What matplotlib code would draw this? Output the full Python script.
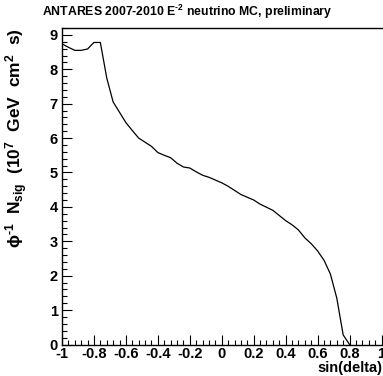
import matplotlib
matplotlib.use('Agg')
from matplotlib import pyplot as plt
from matplotlib.ticker import MultipleLocator

plt.rcParams['font.family'] = ['Liberation Sans', 'DejaVu Sans']
plt.rcParams['font.weight'] = 'bold'
plt.rcParams['axes.unicode_minus'] = False
plt.rcParams['mathtext.fontset'] = 'custom'
plt.rcParams['mathtext.rm'] = 'Liberation Sans:bold'
plt.rcParams['mathtext.it'] = 'Liberation Sans:bold'
plt.rcParams['mathtext.bf'] = 'Liberation Sans:bold'
plt.rcParams['mathtext.default'] = 'rm'

# acceptance curve
sin_delta = [-1.0, -0.96, -0.92, -0.88, -0.84, -0.80, -0.76, -0.72, -0.68, -0.64,
             -0.60, -0.56, -0.52, -0.48, -0.44, -0.40, -0.36, -0.32, -0.28, -0.24,
             -0.20, -0.16, -0.12, -0.08, -0.04, 0.0, 0.04, 0.08, 0.12, 0.16,
             0.20, 0.24, 0.28, 0.32, 0.36, 0.40, 0.44, 0.48, 0.52, 0.56,
             0.60, 0.64, 0.68, 0.72, 0.76, 0.80]
n_sig = [8.74, 8.64, 8.55, 8.55, 8.59, 8.78, 8.78, 7.75, 7.05, 6.75,
         6.45, 6.22, 6.00, 5.88, 5.76, 5.58, 5.50, 5.43, 5.27, 5.16,
         5.13, 5.02, 4.92, 4.86, 4.78, 4.70, 4.60, 4.48, 4.36, 4.28,
         4.20, 4.08, 3.99, 3.90, 3.75, 3.60, 3.48, 3.33, 3.10, 2.93,
         2.72, 2.45, 2.05, 1.35, 0.28, 0.0]

x_ticks = [-1, -0.8, -0.6, -0.4, -0.2, 0, 0.2, 0.4, 0.6, 0.8, 1]
x_ticklabels = ['-1', '-0.8', '-0.6', '-0.4', '-0.2', '0', '0.2', '0.4', '0.6', '0.8', '1']
y_ticks = [0, 1, 2, 3, 4, 5, 6, 7, 8, 9]

fig = plt.figure(figsize=(3.83, 3.76), dpi=100)
ax = fig.add_axes([62/383, 1-344.5/376, 319.5/383, (344.5-28)/376])
ax.plot(sin_delta, n_sig, color='black', lw=0.9)
ax.set_xlim(-1, 1)
ax.set_ylim(0, 9.2)

ax.set_xticks(x_ticks)
ax.set_xticklabels(x_ticklabels)
ax.set_yticks(y_ticks)
ax.xaxis.set_minor_locator(MultipleLocator(0.04))
ax.yaxis.set_minor_locator(MultipleLocator(0.2))
ax.tick_params(which='both', direction='in', top=False, right=False, width=0.8,
               labelsize=10.5)
ax.tick_params(axis='x', which='major', length=7, pad=2)
ax.tick_params(axis='x', which='minor', length=3.5)
ax.tick_params(axis='y', which='major', length=7, pad=3)
ax.tick_params(axis='y', which='minor', length=3.5)
for lab in ax.get_xticklabels() + ax.get_yticklabels():
    lab.set_fontweight('bold')
ax.spines['right'].set_visible(False)
for s in ['left', 'bottom', 'top']:
    ax.spines[s].set_linewidth(1.0)

fig.text(42/383, 1-12/376, r'ANTARES 2007-2010 E$^{\text{-}2}$ neutrino MC, preliminary',
         fontsize=8.8, fontweight='bold', va='center', ha='left')
fig.text(17/383, 1-28/376,
         r'$\phi^{\text{-}1}$  N$_{sig}$  (10$^{7}$  GeV  cm$^{2}$  s)',
         fontsize=12.5, fontweight='bold', rotation=90, va='top', ha='center')
fig.text(382/383, 1-368/376, 'sin(delta)', fontsize=10.5, fontweight='bold',
         va='center', ha='right')

fig.savefig('out.png', dpi=100)
